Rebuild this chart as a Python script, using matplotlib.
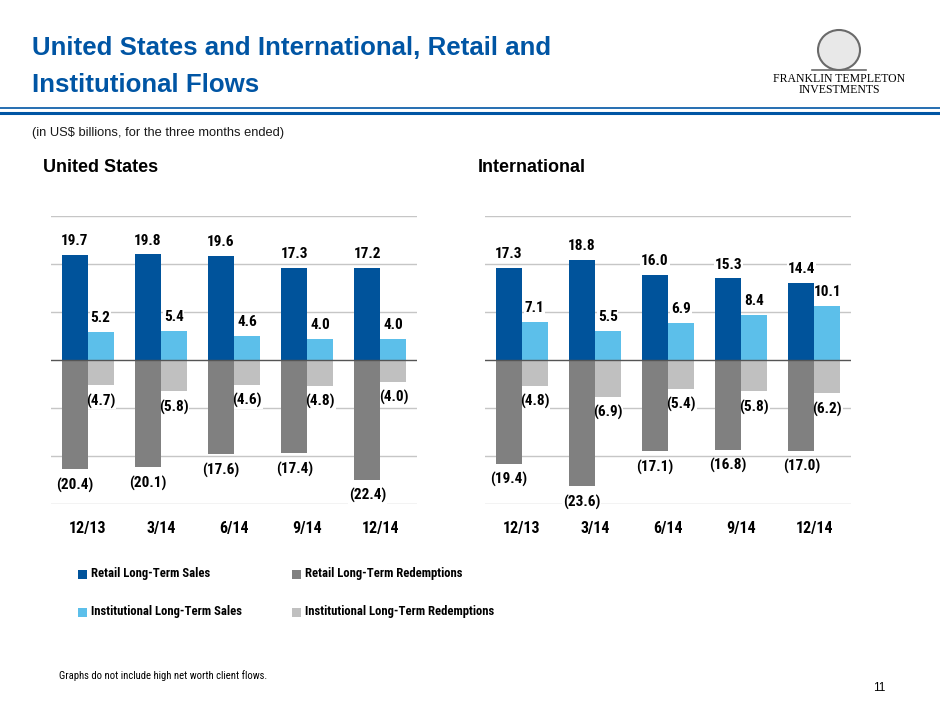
import numpy as np
import matplotlib
matplotlib.use('Agg')
import matplotlib.pyplot as plt
from matplotlib.patches import Rectangle, Ellipse

# 数据
periods = ['12/13', '3/14', '6/14', '9/14', '12/14']
us_retail_sales = [19.7, 19.8, 19.6, 17.3, 17.2]
us_retail_redemptions = [20.4, 20.1, 17.6, 17.4, 22.4]
us_inst_sales = [5.2, 5.4, 4.6, 4.0, 4.0]
us_inst_redemptions = [4.7, 5.8, 4.6, 4.8, 4.0]
intl_retail_sales = [17.3, 18.8, 16.0, 15.3, 14.4]
intl_retail_redemptions = [19.4, 23.6, 17.1, 16.8, 17.0]
intl_inst_sales = [7.1, 5.5, 6.9, 8.4, 10.1]
intl_inst_redemptions = [4.8, 6.9, 5.4, 5.8, 6.2]

legend_labels = ['Retail Long-Term Sales', 'Retail Long-Term Redemptions',
                 'Institutional Long-Term Sales', 'Institutional Long-Term Redemptions']

C_RS = '#00539b'
C_RR = '#808080'
C_IS = '#5cbfea'
C_IR = '#c0c0c0'
TITLE_BLUE = '#0055a4'

NARROW = ['Liberation Sans Narrow', 'Roboto Condensed', 'Liberation Sans', 'DejaVu Sans']
SANS = ['Liberation Sans', 'DejaVu Sans']

W, H = 940, 705
fig = plt.figure(figsize=(9.4, 7.05), dpi=100)


def fx(x):
    return x / W


def fy(y):
    return 1 - y / H


def put_label(ax, txt, xy, dy):
    # 白底只盖住网格线，文字画在柱子上面
    kw = dict(xytext=(0, dy), textcoords='offset points', ha='center', va='center',
              fontsize=11, fontweight='bold', family=NARROW)
    ax.annotate(txt, xy, color='white', zorder=1,
                bbox=dict(facecolor='white', edgecolor='none', pad=0.5), **kw)
    ax.annotate(txt, xy, color='black', zorder=4, **kw)


def draw_panel(left, rs, rr, isales, ired):
    ax = fig.add_axes([fx(left), fy(504.3), 366 / W, 288.3 / H])
    x = np.arange(len(periods))
    w = 0.355
    ax.set_xlim(-0.5, 4.5)
    ax.set_ylim(-27, 27)
    for g in [-27, -18, -9, 9, 18, 27]:
        ax.axhline(g, color='#c6c6c6', lw=1.0, zorder=0)
    ax.bar(x - w / 2, rs, w, color=C_RS, zorder=2)
    ax.bar(x - w / 2, [-v for v in rr], w, color=C_RR, zorder=2)
    ax.bar(x + w / 2, isales, w, color=C_IS, zorder=2)
    ax.bar(x + w / 2, [-v for v in ired], w, color=C_IR, zorder=2)
    ax.axhline(0, color='#555555', lw=1.0, zorder=3)

    for xs, vals in [(x - w / 2, rs), (x + w / 2, isales)]:
        for xi, v in zip(xs, vals):
            put_label(ax, f'{v:.1f}', (xi, v), 10)
    for xs, vals in [(x - w / 2, rr), (x + w / 2, ired)]:
        for xi, v in zip(xs, vals):
            put_label(ax, f'({v:.1f})', (xi, -v), -11.5)

    ax.set_xticks(x)
    ax.set_xticklabels(periods, fontsize=11.5, fontweight='bold', family=NARROW)
    ax.tick_params(axis='x', length=0, pad=12)
    ax.set_yticks([])
    for s in ax.spines.values():
        s.set_visible(False)
    return ax


draw_panel(51, us_retail_sales, us_retail_redemptions, us_inst_sales, us_inst_redemptions)
draw_panel(485, intl_retail_sales, intl_retail_redemptions, intl_inst_sales, intl_inst_redemptions)

# 标题
fig.text(fx(32), fy(48), 'United States and International, Retail and', color=TITLE_BLUE,
         fontsize=18.6, fontweight='bold', family=SANS, va='center', ha='left')
fig.text(fx(32), fy(85), 'Institutional Flows', color=TITLE_BLUE,
         fontsize=18.6, fontweight='bold', family=SANS, va='center', ha='left')

# 标题下方双线
fig.add_artist(plt.Line2D([0, 1], [fy(108.3), fy(108.3)], color=TITLE_BLUE, lw=1.2))
fig.add_artist(plt.Line2D([0, 1], [fy(112.8), fy(112.8)], color=TITLE_BLUE, lw=2.2))

fig.text(fx(32), fy(133), '(in US$ billions, for the three months ended)', fontsize=9.3,
         family=SANS, va='center', ha='left', color='#1a1a1a')
fig.text(fx(43), fy(168), 'United States', fontsize=13, fontweight='bold', family=SANS,
         va='center', ha='left')
fig.text(fx(478), fy(168), 'International', fontsize=13, fontweight='bold', family=SANS,
         va='center', ha='left')

# logo
fig.add_artist(Ellipse((fx(839), fy(50)), 42 / W, 40 / H, transform=fig.transFigure,
                       facecolor='#e8e8e8', edgecolor='#6a6a6a', lw=1.5))
fig.add_artist(plt.Line2D([fx(812), fx(866)], [fy(70), fy(70)], color='#6a6a6a', lw=1.2))
fig.text(fx(839), fy(79), 'FRANKLIN TEMPLETON', fontsize=8.5, family=['Liberation Serif', 'DejaVu Serif'],
         ha='center', va='center')
fig.text(fx(839), fy(90), 'INVESTMENTS', fontsize=8.5, family=['Liberation Serif', 'DejaVu Serif'],
         ha='center', va='center')

# 图例
colors = [C_RS, C_RR, C_IS, C_IR]
pos = [(78, 574), (292, 574), (78, 612), (292, 612)]
for (px, py), c, lab in zip(pos, colors, legend_labels):
    fig.add_artist(Rectangle((fx(px), fy(py + 4.5)), 9 / W, 9 / H, transform=fig.transFigure,
                             facecolor=c, edgecolor='none'))
    fig.text(fx(px + 13), fy(py), lab, fontsize=9.1, fontweight='bold', family=NARROW,
             va='center', ha='left')

fig.text(fx(59), fy(676), 'Graphs do not include high net worth client flows.', fontsize=7.7,
         family=NARROW, va='center', ha='left')
fig.text(fx(885), fy(688), '11', fontsize=8.5, family=SANS, va='center', ha='right')

plt.savefig('out.png', dpi=100)
plt.close()
